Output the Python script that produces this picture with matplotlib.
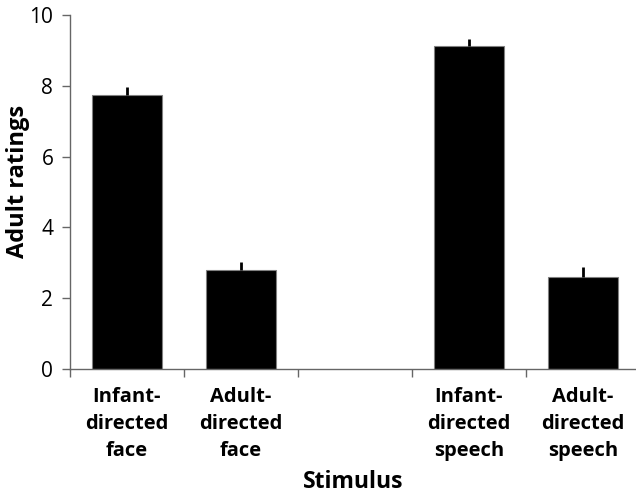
import numpy as np
import matplotlib.pyplot as plt

plt.rcParams['font.family'] = ['Open Sans', 'DejaVu Sans']

# data
labels = ["Infant-\ndirected\nface", "Adult-\ndirected\nface", "",
          "Infant-\ndirected\nspeech", "Adult-\ndirected\nspeech"]
ratings = [7.73, 2.80, np.nan, 9.12, 2.61]
errors = [0.24, 0.21, np.nan, 0.21, 0.28]

fig = plt.figure(figsize=(6.36, 4.98), dpi=100)
ax = fig.add_axes([70 / 636, 129 / 498, 566 / 636, 354 / 498])

x = np.arange(len(labels))
ax.bar(x, ratings, width=0.61, color='black', edgecolor='#808080', linewidth=0.8)
err_low = [0 for e in errors]
ax.errorbar(x, ratings, yerr=[err_low, errors], fmt='none', ecolor='black',
            elinewidth=2, capsize=0)

ax.set_xlim(-0.5, 4.465)
ax.set_ylim(0, 10)
ax.set_yticks([0, 2, 4, 6, 8, 10])

# ticks on the category boundaries, labels centered under bars
ax.set_xticks(np.arange(-0.5, 4.0, 1.0))
ax.set_xticklabels([])
ax.set_xticks(x, minor=True)
ax.set_xticklabels(labels, minor=True, fontsize=14.5, fontweight='bold', linespacing=1.45)
ax.tick_params(axis='x', which='minor', length=0, pad=13)
ax.tick_params(axis='x', which='major', length=6, width=1, color='#666666')
ax.tick_params(axis='y', length=6, width=1, color='#666666', labelsize=15, pad=6)

for s in ['top', 'right']:
    ax.spines[s].set_visible(False)
for s in ['left', 'bottom']:
    ax.spines[s].set_color('#666666')
    ax.spines[s].set_linewidth(1)

ax.set_ylabel("Adult ratings", fontsize=17, fontweight='bold')
ax.yaxis.set_label_coords(-0.07, 0.53)
ax.set_xlabel("Stimulus", fontsize=16.5, fontweight='bold', labelpad=7)

plt.savefig("out.png", dpi=100)
